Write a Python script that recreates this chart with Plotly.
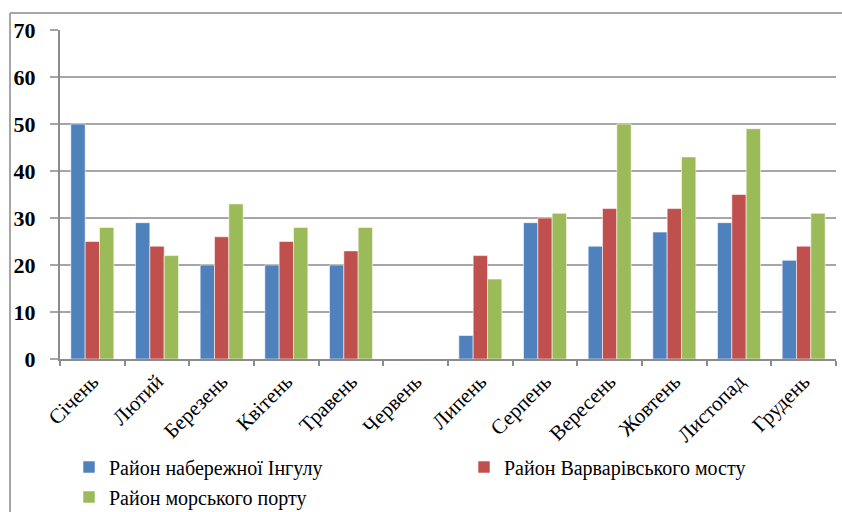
import plotly.graph_objects as go

# Monthly values for three city districts
months = ["Січень", "Лютий", "Березень", "Квітень", "Травень", "Червень",
          "Липень", "Серпень", "Вересень", "Жовтень", "Листопад", "Грудень"]
ingul = [50, 29, 20, 20, 20, 0, 5, 29, 24, 27, 29, 21]
varvarivskyi = [25, 24, 26, 25, 23, 0, 22, 30, 32, 32, 35, 24]
port = [28, 22, 33, 28, 28, 0, 17, 31, 50, 43, 49, 31]

series_names = ["Район набережної Інгулу", "Район Варварівського мосту", "Район морського порту"]
colors = ["#4f81bd", "#c0504d", "#9bbb59"]

W, H = 842, 512
L, R, T, B = 60, 6, 30, 153
pw, ph = W - L - R, H - T - B


def px_x(p):
    return (p - L) / pw


def px_y(p):
    return (H - B - p) / ph


serif = "Liberation Serif"

# each series gets its own legend box so the entries sit where they should
legend_ids = ["legend", "legend2", "legend3"]
legend_pos = [(69, 467), (464, 467), (69, 497)]

fig = go.Figure()
for name, vals, col, leg in zip(series_names, [ingul, varvarivskyi, port], colors, legend_ids):
    fig.add_trace(go.Bar(
        x=months, y=vals, name=name, legend=leg, showlegend=True,
        marker=dict(color=col, line=dict(color="rgba(255,255,255,0.55)", width=1)),
    ))

legend_layout = {}
for leg, (lx, ly) in zip(legend_ids, legend_pos):
    legend_layout[leg] = dict(
        orientation="h", x=px_x(lx), xanchor="left", y=px_y(ly), yanchor="middle",
        font=dict(family=serif, size=20, color="black"),
        bgcolor="rgba(0,0,0,0)",
    )

fig.update_layout(
    width=W, height=H,
    showlegend=True,
    margin=dict(l=L, r=R, t=T, b=B, autoexpand=False),
    paper_bgcolor="white", plot_bgcolor="white",
    barmode="group", bargap=0.335, bargroupgap=0,
    font=dict(family=serif, color="black"),
    xaxis=dict(
        type="category", tickson="boundaries", ticks="outside", ticklen=5,
        tickcolor="#8c8c8c", tickwidth=1.5,
        showline=True, linecolor="#8c8c8c", linewidth=2,
        tickangle=-45, tickfont=dict(family=serif, size=21, color="black"),
        showgrid=False, automargin=False,
    ),
    yaxis=dict(
        range=[0, 70], dtick=10, tick0=0,
        showgrid=True, gridcolor="#a6a6a6", gridwidth=1.5,
        showline=True, linecolor="#8c8c8c", linewidth=2,
        ticks="outside", ticklen=8, tickcolor="#a6a6a6", tickwidth=1.5,
        tickfont=dict(family=serif, size=22, color="black", weight="bold"),
        ticklabelstandoff=10, automargin=False,
        zeroline=False,
    ),
    shapes=[
        dict(type="line", xref="paper", yref="paper",
             x0=px_x(10), x1=px_x(W + 5), y0=px_y(13), y1=px_y(13),
             line=dict(color="#a6a6a6", width=2)),
        dict(type="line", xref="paper", yref="paper",
             x0=px_x(10), x1=px_x(10), y0=px_y(13), y1=px_y(H + 5),
             line=dict(color="#a6a6a6", width=2)),
    ],
    **legend_layout,
)

fig.write_html("out.html")
